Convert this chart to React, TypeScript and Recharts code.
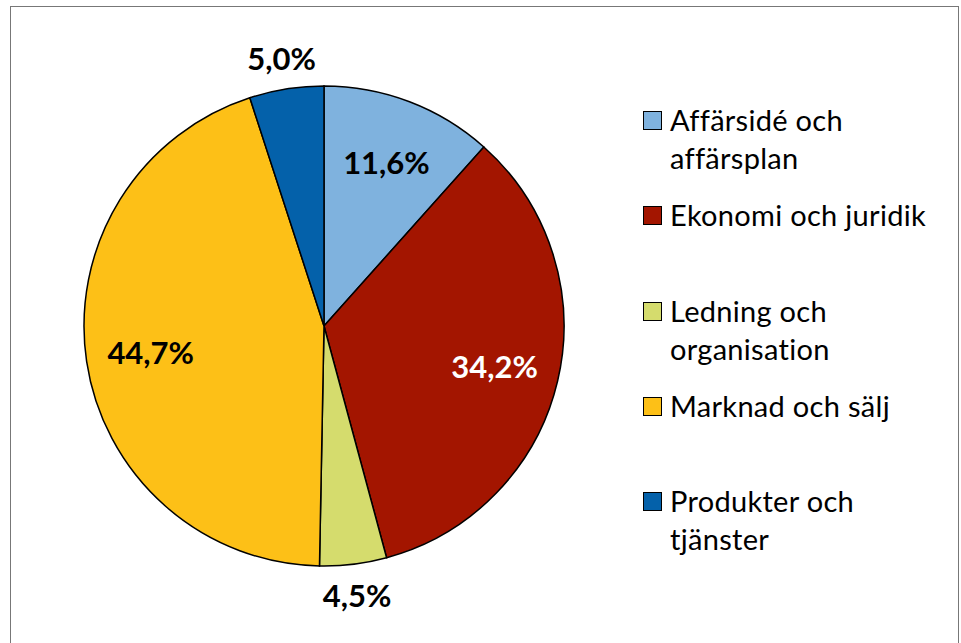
import { Cell, Pie, PieChart } from 'recharts'

const categories = ['Affärsidé och affärsplan', 'Ekonomi och juridik', 'Ledning och organisation', 'Marknad och sälj', 'Produkter och tjänster']
const legendLines = [['Affärsidé och', 'affärsplan'], ['Ekonomi och juridik'], ['Ledning och', 'organisation'], ['Marknad och sälj'], ['Produkter och', 'tjänster']]
const shares = [11.6, 34.2, 4.5, 44.7, 5.0]
const colors = ['#7fb2de', '#a31500', '#d5dc6d', '#fdc017', '#0461aa']
const labelColors = ['#000', '#fff', '#000', '#000', '#000']

const data = categories.map((name, i) => ({ name, value: shares[i] }))

const RAD = Math.PI / 180
const font = 'Lato, Carlito, Calibri, sans-serif'

function renderLabel(p: any) {
  const { cx, cy, midAngle, outerRadius, index, value } = p
  const r = outerRadius * (value < 6 ? 1.13 : 0.73)
  const x = cx + r * Math.cos(-midAngle * RAD)
  const y = cy + r * Math.sin(-midAngle * RAD)
  return (
    <text x={x} y={y} fill={labelColors[index]} textAnchor="middle" dominantBaseline="central"
      fontFamily={font} fontWeight={700} fontSize={31}>
      {value.toFixed(1).replace('.', ',')}%
    </text>
  )
}

function LegendBox() {
  // top of each entry's first line
  const tops = [101, 196, 292, 387, 482]
  return (
    <div style={{ position: 'absolute', left: 643, top: 0, fontFamily: font, fontSize: 29, letterSpacing: 0.3, color: '#000' }}>
      {legendLines.map((lines, i) => (
        <div key={i} style={{ position: 'absolute', left: 0, top: tops[i], display: 'flex', whiteSpace: 'nowrap' }}>
          <div style={{ width: 17, height: 17, flex: 'none', background: colors[i], border: '1.5px solid #000', marginTop: 10, marginRight: 8 }} />
          <div style={{ lineHeight: '38px' }}>
            {lines.map(l => <div key={l}>{l}</div>)}
          </div>
        </div>
      ))}
    </div>
  )
}

export default function App() {
  return (
    <div style={{ position: 'absolute', left: 0, top: 0, width: 961, height: 643, overflow: 'hidden', background: '#fff' }}>
      <div style={{ position: 'absolute', left: 10, top: 6, width: 947, height: 700, border: '1.5px solid #777' }} />
      <div style={{ position: 'absolute', left: 0, top: 0 }}>
        <PieChart width={961} height={643} margin={{ top: 0, right: 0, bottom: 0, left: 0 }}>
          <Pie data={data} dataKey="value" nameKey="name" cx={324} cy={326} outerRadius={240}
            startAngle={90} endAngle={-270} stroke="#000" strokeWidth={1.5}
            label={renderLabel} labelLine={false} isAnimationActive={false}>
            {data.map((d, i) => <Cell key={d.name} fill={colors[i]} />)}
          </Pie>
        </PieChart>
      </div>
      <LegendBox />
    </div>
  )
}
